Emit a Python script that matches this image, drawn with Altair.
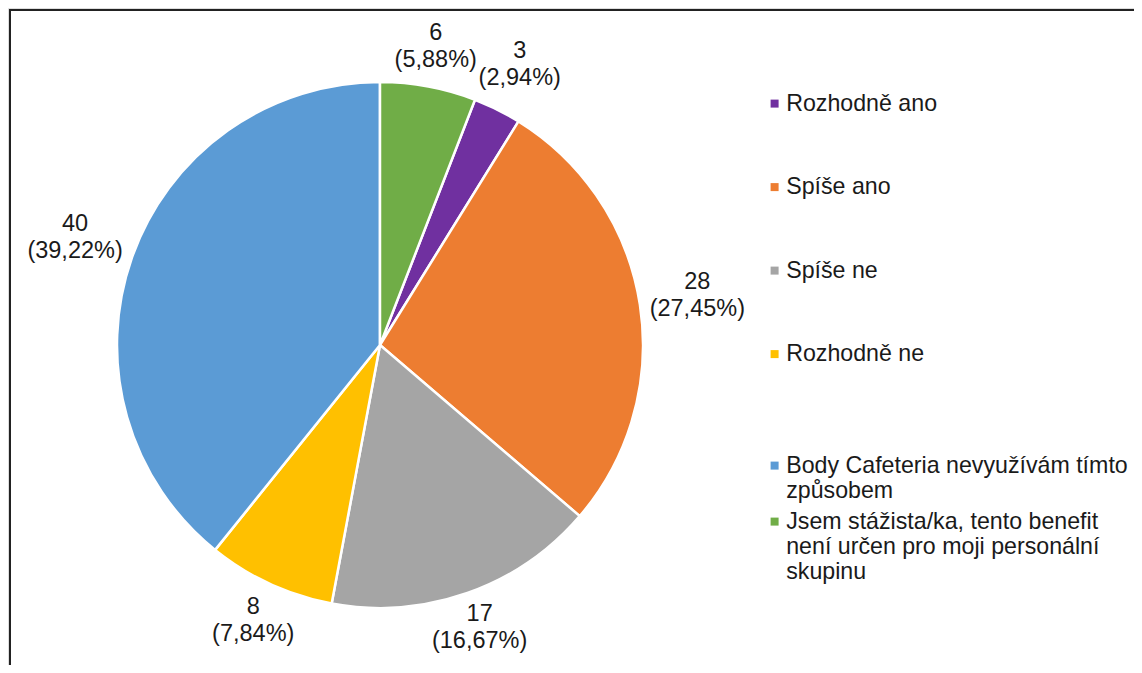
import altair as alt
import pandas as pd

categories = [
    "Rozhodně ano",
    "Spíše ano",
    "Spíše ne",
    "Rozhodně ne",
    "Body Cafeteria nevyužívám tímto\nzpůsobem",
    "Jsem stážista/ka, tento benefit\nnení určen pro moji personální\nskupinu",
]
values = [3, 28, 17, 8, 40, 6]
colors = ["#7030A0", "#ED7D31", "#A5A5A5", "#FFC000", "#5B9BD5", "#70AD47"]

total = sum(values)
labels = [f"{v}\n({v / total * 100:.2f}%)".replace(".", ",") for v in values]

df = pd.DataFrame({
    "cat": categories,
    "val": values,
    "lab": labels,
    "ord": list(range(len(values))),
})

FONT = "Liberation Sans"
FS = 23.5
LH = 27
W, H = 1126, 657
CX, CY = 372, 337
R = 263
START = 0.3696  # rotation of first slice (rad)
TWO_PI = 6.283185307

theta = alt.Theta("val:Q", stack=True,
                  scale=alt.Scale(range=[START, START + TWO_PI]))

legend_style = dict(
    title=None,
    orient="none",
    legendX=755,
    symbolType="square",
    symbolSize=64,
    symbolStrokeWidth=0,
    symbolOpacity=1,
    labelFont=FONT,
    labelFontSize=23.2,
    labelColor="#1a1a1a",
    labelOffset=0,
    labelLimit=600,
    labelExpr="split(datum.label, '\\n')",
)

# the pie; its legend shows the first four (single-line) entries
pie = alt.Chart(df).mark_arc(outerRadius=R, stroke="white", strokeWidth=2.5).encode(
    theta=theta,
    order=alt.Order("ord:Q", sort="ascending"),
    x=alt.value(CX),
    y=alt.value(CY),
    color=alt.Color(
        "cat:N",
        sort=categories,
        scale=alt.Scale(domain=categories, range=colors),
        legend=alt.Legend(values=categories[:4], legendY=84, rowPadding=59.5,
                          **legend_style),
    ),
)

# invisible helper layer carrying the legend of the last two (multi-line) entries
legend2 = alt.Chart(df).transform_filter(
    alt.FieldOneOfPredicate(field="cat", oneOf=categories[4:])
).mark_square(size=1, opacity=0, filled=True).encode(
    x=alt.value(CX),
    y=alt.value(CY),
    fill=alt.Fill(
        "cat:N",
        sort=categories[4:],
        scale=alt.Scale(domain=categories[4:], range=colors[4:]),
        legend=alt.Legend(legendY=446, rowPadding=7, **legend_style),
    ),
)

# label placement: just outside the pie, pushed out by part of the label box
text = alt.Chart(df).transform_window(
    cum="sum(val)", sort=[alt.SortField("ord")]
).transform_joinaggregate(
    tot="sum(val)"
).transform_calculate(
    mid=f"{START} + {TWO_PI} * (datum.cum - datum.val / 2) / datum.tot"
).transform_calculate(
    lr=f"{R + 8} + 47 * abs(sin(datum.mid)) + (cos(datum.mid) > 0 ? 24 : 14) * abs(cos(datum.mid))"
).transform_calculate(
    px=f"{CX} + datum.lr * sin(datum.mid)",
    # first line is drawn at y; shift up so the two-line block is centred
    py=f"{CY} - datum.lr * cos(datum.mid) - {LH / 2}",
).mark_text(
    font=FONT, fontSize=FS, color="#1a1a1a",
    lineBreak="\n", align="center", baseline="middle", lineHeight=LH,
).encode(
    x=alt.X("px:Q", scale=None, axis=None),
    y=alt.Y("py:Q", scale=None, axis=None),
    text="lab:N",
)

border_top = alt.Chart(df).mark_rule(color="#222222", strokeWidth=2).encode(
    x=alt.value(1), x2=alt.value(W), y=alt.value(2)
)
border_left = alt.Chart(df).mark_rule(color="#222222", strokeWidth=2).encode(
    x=alt.value(2), y=alt.value(1), y2=alt.value(H)
)

chart = alt.layer(pie, legend2, text, border_top, border_left).properties(
    width=W, height=H,
    autosize=alt.AutoSizeParams(type="none"),
    padding=0,
).configure_view(stroke=None).configure(background="white")

chart.save("out.html", embed_options={"renderer": "svg", "actions": False})
